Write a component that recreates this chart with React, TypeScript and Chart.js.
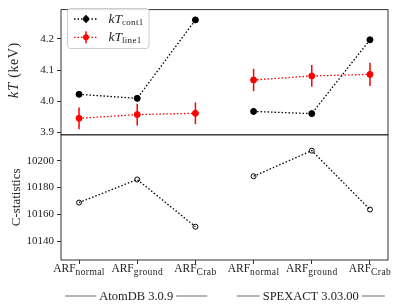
import React, { useEffect, useRef } from "react";
import { Chart, registerables } from "chart.js";
Chart.register(...registerables);

// ---- data ----
const arfSubs = ["normal", "ground", "Crab", "normal", "ground", "Crab"];
const groupLabels = ["AtomDB 3.0.9", "SPEXACT 3.03.00"];
const kTcont1 = [4.022, 4.009, 4.261, 3.967, 3.96, 4.197];
const kTcont1Err = [0.009, 0.009, 0.009, 0.009, 0.008, 0.009];
const kTline1 = [3.945, 3.957, 3.961, 4.068, 4.081, 4.086];
const kTline1Err = [0.035, 0.035, 0.035, 0.036, 0.035, 0.037];
const cstat = [10168.8, 10186.0, 10150.8, 10188.4, 10207.5, 10163.6];
const kTTicks = [3.9, 4.0, 4.1, 4.2];
const cTicks = [10140, 10160, 10180, 10200];

const SERIF = "'Liberation Serif', 'DejaVu Serif', serif";
const TXT = "#222";

type Part = { t: string; size: number; italic?: boolean; dy?: number; ls?: number };
function setFont(ctx: CanvasRenderingContext2D, p: Part) {
  ctx.font = `${p.italic ? "italic " : ""}${p.size}px ${SERIF}`;
  (ctx as any).letterSpacing = `${p.ls || 0}px`;
}
function richWidth(ctx: CanvasRenderingContext2D, parts: Part[]) {
  let w = 0;
  for (const p of parts) {
    setFont(ctx, p);
    w += ctx.measureText(p.t).width;
  }
  return w;
}
function drawRich(ctx: CanvasRenderingContext2D, parts: Part[], x: number, y: number, align: "left" | "center") {
  const w = richWidth(ctx, parts);
  let cx = align === "center" ? x - w / 2 : x;
  ctx.textAlign = "left";
  ctx.textBaseline = "alphabetic";
  for (const p of parts) {
    setFont(ctx, p);
    ctx.fillText(p.t, cx, y + (p.dy || 0));
    cx += ctx.measureText(p.t).width;
  }
  (ctx as any).letterSpacing = "0px";
  return w;
}

const pts = (vals: number[], from: number, to: number) =>
  vals.slice(from, to).map((v, i) => ({ x: from + i, y: v }));

export default function App() {
  const ref = useRef<HTMLCanvasElement>(null);
  useEffect(() => {
    const canvas = ref.current!;
    const dash = [1.5, 2];
    const mk = (label: string, vals: number[], from: number, to: number, color: string, axis: string, open: boolean, order: number) => ({
      label,
      data: pts(vals, from, to),
      yAxisID: axis,
      showLine: true,
      borderColor: color,
      backgroundColor: open ? "rgba(0,0,0,0)" : color,
      pointBorderColor: color,
      pointBackgroundColor: open ? "rgba(0,0,0,0)" : color,
      pointRadius: open ? 2.5 : 3,
      pointBorderWidth: 1,
      borderWidth: 1.3,
      borderDash: dash,
      order,
    });
    const datasets: any[] = [
      mk("cont1a", kTcont1, 0, 3, "#000", "yTop", false, 0),
      mk("cont1b", kTcont1, 3, 6, "#000", "yTop", false, 0),
      mk("line1a", kTline1, 0, 3, "#ff0000", "yTop", false, 1),
      mk("line1b", kTline1, 3, 6, "#ff0000", "yTop", false, 1),
      mk("ca", cstat, 0, 3, "#000", "yBot", true, 0),
      mk("cb", cstat, 3, 6, "#000", "yBot", true, 0),
    ];

    const errPlugin = {
      id: "err",
      beforeDatasetsDraw(chart: any) {
        const ctx = chart.ctx;
        const xs = chart.scales.x;
        const ys = chart.scales.yTop;
        const series = [
          { v: kTline1, e: kTline1Err, c: "#ff0000" },
          { v: kTcont1, e: kTcont1Err, c: "#000" },
        ];
        ctx.save();
        ctx.lineWidth = 1.5;
        for (const s of series) {
          ctx.strokeStyle = s.c;
          s.v.forEach((v, i) => {
            const x = xs.getPixelForValue(i);
            ctx.beginPath();
            ctx.moveTo(x, ys.getPixelForValue(v - s.e[i]));
            ctx.lineTo(x, ys.getPixelForValue(v + s.e[i]));
            ctx.stroke();
          });
        }
        ctx.restore();
      },
    };

    const decoPlugin = {
      id: "deco",
      afterDraw(chart: any) {
        const ctx = chart.ctx;
        const xs = chart.scales.x;
        const yt = chart.scales.yTop;
        const yb = chart.scales.yBot;
        const L = xs.left, R = xs.right;
        ctx.save();
        // frames
        ctx.strokeStyle = "#333";
        ctx.lineWidth = 1;
        ctx.strokeRect(L, yt.top, R - L, yt.bottom - yt.top);
        ctx.strokeRect(L, yb.top, R - L, yb.bottom - yb.top);
        // x tick labels
        ctx.fillStyle = TXT;
        const base = yb.bottom + 11.5;
        arfSubs.forEach((s, i) => {
          const x = xs.getPixelForValue(i);
          drawRich(ctx, [{ t: "ARF", size: 11.5 }, { t: s, size: 9.5, dy: 3.5, ls: 0.4 }], x, base, "center");
        });
        // group labels
        const gy = yb.bottom + 39.5;
        const dashLen = [31, 23];
        groupLabels.forEach((g, i) => {
          const cx = (xs.getPixelForValue(3 * i) + xs.getPixelForValue(3 * i + 2)) / 2 - 1;
          const w = drawRich(ctx, [{ t: g, size: 12.5 }], cx, gy, "center");
          ctx.strokeStyle = "#444";
          ctx.lineWidth = 0.8;
          ctx.beginPath();
          ctx.moveTo(cx - w / 2 - 3, gy - 3.5);
          ctx.lineTo(cx - w / 2 - 3 - dashLen[i], gy - 3.5);
          ctx.moveTo(cx + w / 2 + 3, gy - 3.5);
          ctx.lineTo(cx + w / 2 + 3 + dashLen[i], gy - 3.5);
          ctx.stroke();
        });
        // y labels
        ctx.save();
        ctx.translate(17.5, (yt.top + yt.bottom) / 2 - 2);
        ctx.rotate(-Math.PI / 2);
        drawRich(ctx, [{ t: "kT", size: 15, italic: true, ls: 0.6 }, { t: " (keV)", size: 14, ls: 0.6 }], 0, 0, "center");
        ctx.restore();
        ctx.save();
        ctx.translate(20, (yb.top + yb.bottom) / 2);
        ctx.rotate(-Math.PI / 2);
        drawRich(ctx, [{ t: "C-statistics", size: 13 }], 0, 0, "center");
        ctx.restore();
        // legend
        const bx = 67.5, by = 8.5, bw = 81.5, bh = 40;
        ctx.fillStyle = "rgba(255,255,255,0.85)";
        ctx.strokeStyle = "#ccc";
        ctx.lineWidth = 1;
        ctx.beginPath();
        ctx.roundRect(bx, by, bw, bh, 3);
        ctx.fill();
        ctx.stroke();
        const rows = [
          { c: "#000", sub: "cont1", y: 19, base: 22.5, e: 4 },
          { c: "#ff0000", sub: "line1", y: 37.3, base: 40.5, e: 6 },
        ];
        for (const r of rows) {
          ctx.strokeStyle = r.c;
          ctx.fillStyle = r.c;
          ctx.lineWidth = 1.3;
          ctx.setLineDash([1.5, 2]);
          ctx.beginPath();
          ctx.moveTo(74, r.y);
          ctx.lineTo(98, r.y);
          ctx.stroke();
          ctx.setLineDash([]);
          ctx.lineWidth = 1.5;
          ctx.beginPath();
          ctx.moveTo(86, r.y - r.e);
          ctx.lineTo(86, r.y + r.e);
          ctx.stroke();
          ctx.beginPath();
          ctx.arc(86, r.y, 3, 0, Math.PI * 2);
          ctx.fill();
          ctx.fillStyle = TXT;
          drawRich(ctx, [{ t: "kT", size: 13.5, italic: true }, { t: r.sub, size: 9, dy: 2.5, ls: 0.3 }], 108.5, r.base, "left");
        }
        ctx.restore();
      },
    };

    const yCommon = (ticks: number[], fmt: (v: number) => string) => ({
      type: "linear",
      position: "left",
      stack: "panels",
      stackWeight: 1,
      afterFit: (s: any) => { s.width = 61; },
      afterBuildTicks: (s: any) => { s.ticks = ticks.map((v) => ({ value: v })); },
      ticks: { font: { family: SERIF, size: 11 }, color: TXT, padding: 3, callback: (v: any) => fmt(Number(v)) },
      grid: { drawOnChartArea: false, tickLength: 4, color: "#333", tickColor: "#333" },
      border: { display: false },
    });

    const chart = new Chart(canvas, {
      type: "scatter",
      data: { datasets },
      options: {
        responsive: false,
        animation: false,
        layout: { padding: { left: 0, right: 21, top: 3, bottom: 0 } },
        plugins: { legend: { display: false }, tooltip: { enabled: false } },
        scales: {
          x: {
            type: "linear",
            min: -0.31,
            max: 5.31,
            afterFit: (s: any) => { s.height = 47; },
            afterBuildTicks: (s: any) => { s.ticks = arfSubs.map((_, i) => ({ value: i })); },
            ticks: { display: false },
            grid: { drawOnChartArea: false, tickLength: 4, color: "#333" },
            border: { display: false },
          },
          yBot: { ...yCommon(cTicks, (v) => String(Math.round(v))), min: 10126, max: 10219.3 },
          yTop: { ...yCommon(kTTicks, (v) => v.toFixed(1)), min: 3.892, max: 4.294 },
        } as any,
      },
      plugins: [errPlugin, decoPlugin],
    } as any);
    return () => chart.destroy();
  }, []);
  return (
    <div style={{ position: "absolute", left: 0, top: 0, width: 409, height: 307, background: "#fff" }}>
      <canvas ref={ref} width={409} height={307} />
    </div>
  );
}
